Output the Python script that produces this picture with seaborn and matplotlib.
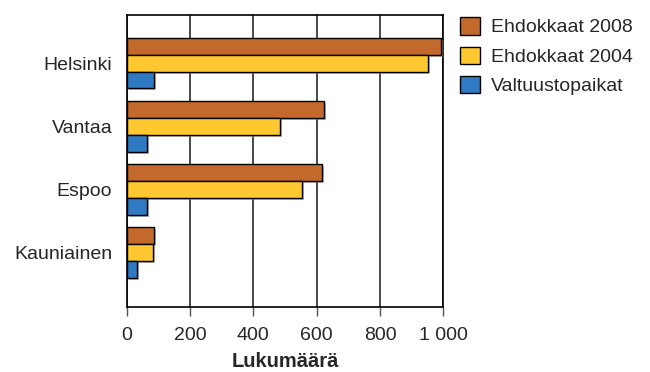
import matplotlib
matplotlib.use("Agg")
import matplotlib.pyplot as plt
import matplotlib.patheffects as pe
from matplotlib.patches import Patch
from matplotlib.ticker import FuncFormatter
import seaborn as sns
import pandas as pd

# Municipal election figures for the capital region
kunnat = ["Helsinki", "Vantaa", "Espoo", "Kauniainen"]
ehdokkaat_2008 = [992, 624, 617, 86]
ehdokkaat_2004 = [951, 483, 554, 82]
valtuustopaikat = [85, 65, 65, 33]
sarjat = ["Ehdokkaat 2008", "Ehdokkaat 2004", "Valtuustopaikat"]
varit = ["#C3692B", "#FFC830", "#2F7AC2"]
x_ticks = [0, 200, 400, 600, 800, 1000]

df = pd.DataFrame({
    "Kunta": kunnat * 3,
    "Sarja": [sarjat[0]] * 4 + [sarjat[1]] * 4 + [sarjat[2]] * 4,
    "Lukumäärä": ehdokkaat_2008 + ehdokkaat_2004 + valtuustopaikat,
})

sns.set_style("white")
plt.rcParams["font.family"] = ["Liberation Sans", "DejaVu Sans"]

fig = plt.figure(figsize=(6.5, 3.72), dpi=100)
ax = fig.add_axes([0.195, 0.1747, 0.487, 0.7858])

sns.barplot(data=df, y="Kunta", x="Lukumäärä", hue="Sarja", order=kunnat,
            hue_order=sarjat, palette=varit, width=0.8, orient="h",
            edgecolor="black", linewidth=1.0, saturation=1, legend=False, ax=ax)

shadow = [pe.SimplePatchShadow(offset=(1.5, -1.5), shadow_rgbFace="#888888", alpha=0.6),
          pe.Normal()]
for p in ax.patches:
    p.set_path_effects(shadow)
    p.set_zorder(3)

ax.set_xlim(0, 1000)
ax.set_ylim(3.86, -0.766)
ax.set_xticks(x_ticks)
ax.xaxis.set_major_formatter(FuncFormatter(lambda v, _: f"{int(v):,}".replace(",", " ")))
ax.grid(axis="x", color="#2a2a2a", linewidth=1.2, zorder=0)
ax.grid(axis="y", visible=False)
ax.set_axisbelow(True)

for s in ax.spines.values():
    s.set_visible(True)
    s.set_color("black")
    s.set_linewidth(1.2)

ax.tick_params(axis="x", direction="out", length=6.5, width=1, color="#555555",
               labelsize=14, pad=8, bottom=True)
ax.tick_params(axis="y", length=0, labelsize=14, pad=10.5)
ax.set_ylabel("")
ax.set_xlabel("Lukumäärä", fontsize=14.5, fontweight="bold", labelpad=5.5)

handles = [Patch(facecolor=c, edgecolor="black", linewidth=1.0, label=l)
           for c, l in zip(varit, sarjat)]
fig.legend(handles=handles, loc="upper left", bbox_to_anchor=(0.707, 0.954),
           frameon=False, fontsize=14, handlelength=1.05, handleheight=1.0,
           handletextpad=0.55, labelspacing=0.52, borderpad=0, borderaxespad=0)

fig.savefig("out.png", dpi=100)
